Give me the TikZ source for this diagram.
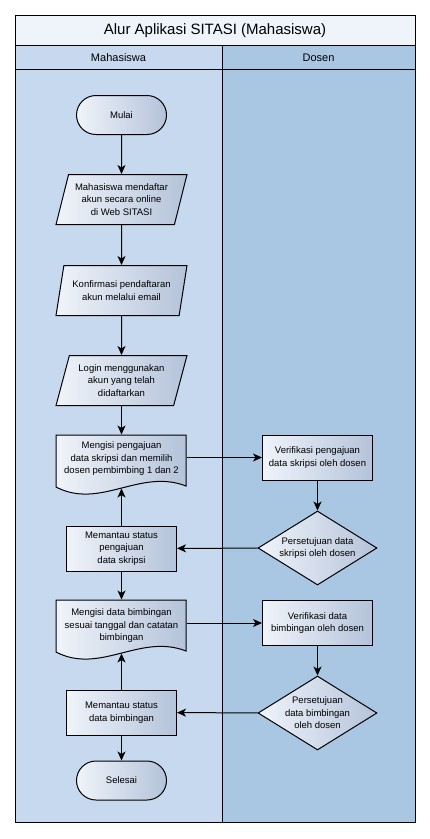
\documentclass[tikz,border=0pt]{standalone}
\usepackage{fontspec}
\setmainfont{Liberation Sans}
\usetikzlibrary{shapes.geometric,arrows.meta,calc}
\definecolor{laneA}{HTML}{C6D9EE}
\definecolor{laneB}{HTML}{A9C6E2}
\definecolor{titlebg}{HTML}{EFF4FA}
\definecolor{gradL}{HTML}{F0F4FA}
\definecolor{gradR}{HTML}{B4C3DA}
\begin{document}
\begin{tikzpicture}[x=1pt,y=-1pt,line width=1pt,
  shp/.style={draw=black,left color=gradL,right color=gradR,align=center,inner sep=0pt,
    font=\fontsize{9.5}{12.5}\selectfont},
  term/.style={shp,rectangle,rounded corners=19.5pt,minimum width=90pt,minimum height=39pt},
  proc/.style={shp,rectangle,minimum width=110pt,minimum height=45pt},
  io/.style={shp,trapezium,trapezium left angle=71,trapezium right angle=109,trapezium stretches=true,minimum width=131pt,minimum height=50pt},
  dec/.style={shp,diamond,minimum width=119pt,minimum height=74pt},
  txt/.style={align=center,inner sep=0pt,font=\fontsize{9.5}{12.5}\selectfont},
  doctext/.style={inner sep=0pt,minimum width=130pt,minimum height=51pt},
  docshape/.style={draw=black,left color=gradL,right color=gradR},
  arr/.style={-{Stealth[length=9pt,width=8pt,inset=2.5pt]}},
  lanetitle/.style={font=\fontsize{11}{13}\selectfont}]
\fill[white] (0,0) rectangle (430,839);
\useasboundingbox (0,0) rectangle (430,839);
% pool
\fill[titlebg] (15,15) rectangle (415,45);
\fill[laneA] (15,45) rectangle (222,822);
\fill[laneB] (222,45) rectangle (415,822);
\draw (15,15) rectangle (415,822);
\draw (15,45) -- (415,45);
\draw (15,69) -- (415,69);
\draw (222,45) -- (222,822);
\node[font=\fontsize{15}{17}\selectfont] (title) at (215,30.5) {Alur Aplikasi SITASI (Mahasiswa)};
\node[lanetitle] (hmhs) at (118.5,57.5) {Mahasiswa};
\node[lanetitle] (hdsn) at (318.5,57.5) {Dosen};
% document shapes
\path[docshape] (56,435) -- (186,435) -- (186,486) .. controls (140,468) and (100,510) .. (56,487) -- cycle;
\path[docshape] (56,600) -- (186,600) -- (186,651) .. controls (140,633) and (100,675) .. (56,652) -- cycle;
% nodes
\node[term] (mulai) at (121.5,115) {Mulai};
\node[io] (p1) at (121.5,199.5) {Mahasiswa mendaftar\\akun secara online\\di Web SITASI};
\node[io] (p2) at (121.5,290.5) {Konfirmasi pendaftaran\\akun melalui email};
\node[io] (p3) at (121.5,380.5) {Login menggunakan\\akun yang telah\\didaftarkan};
\node[doctext] (d1) at (121.5,460.5) {};
\node[txt] (d1t) at (121.5,459) {Mengisi pengajuan\\data skripsi dan memilih\\dosen pembimbing 1 dan 2};
\node[proc] (v1) at (317.5,457.5) {Verifikasi pengajuan\\data skripsi oleh dosen};
\node[dec] (dia1) at (317.5,548) {};
\node[txt] (dia1t) at (dia1) {Persetujuan data\\skripsi oleh dosen};
\node[proc] (m1) at (121.5,548.5) {Memantau status\\pengajuan\\data skripsi};
\node[doctext] (d2) at (121.5,625.5) {};
\node[txt] (d2t) at (121.5,626) {Mengisi data bimbingan\\sesuai tanggal dan catatan\\bimbingan};
\node[proc] (v2) at (317.5,623) {Verifikasi data\\bimbingan oleh dosen};
\node[dec] (dia2) at (317.5,713) {};
\node[txt] (dia2t) at (dia2) {Persetujuan\\data bimbingan\\oleh dosen};
\node[proc] (m2) at (121.5,712.5) {Memantau status\\data bimbingan};
\node[term] (selesai) at (121.5,780.5) {Selesai};
\coordinate (d1b) at (121.5,488.5);
\coordinate (d2b) at (121.5,653.5);
% connectors
\draw[arr] (mulai) -- (p1);
\draw[arr] (p1) -- (p2);
\draw[arr] (p2) -- (p3);
\draw[arr] (p3) -- (d1.north);
\draw[arr] (d1.east |- v1) -- (v1.west);
\draw[arr] (v1) -- (dia1);
\draw[arr] (dia1) -- (m1);
\draw[arr] (m1) -- (d1b);
\draw[arr] (m1) -- (d2.north);
\draw[arr] (d2.east |- v2) -- (v2.west);
\draw[arr] (v2) -- (dia2);
\draw[arr] (dia2) -- (m2);
\draw[arr] (m2) -- (d2b);
\draw[arr] (m2) -- (selesai);
\end{tikzpicture}
\end{document}
